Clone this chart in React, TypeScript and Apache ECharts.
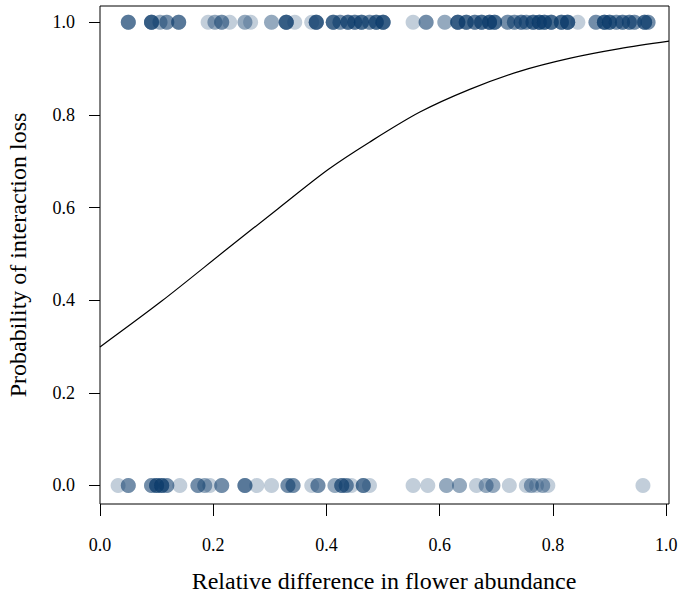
import React, { useEffect, useRef } from "react";
import * as echarts from "echarts";

// Observations at y = 1 (interaction lost): x position and number of overlapping points
const topX = [0.050, 0.091, 0.106, 0.118, 0.139, 0.191, 0.203, 0.215, 0.229, 0.256, 0.266, 0.303, 0.329, 0.344,
  0.374, 0.382, 0.412, 0.424, 0.438, 0.450, 0.462, 0.476, 0.488, 0.500,
  0.553, 0.576, 0.609, 0.632, 0.647, 0.662, 0.674, 0.688, 0.697, 0.720, 0.732, 0.744, 0.753, 0.765, 0.776,
  0.785, 0.797, 0.815, 0.826, 0.844, 0.876, 0.891, 0.900, 0.912, 0.923, 0.935, 0.944, 0.962, 0.968];
const topN = [4, 6, 2, 3, 4, 1, 2, 3, 1, 2, 1, 2, 6, 1,
  1, 6, 5, 3, 5, 4, 5, 3, 5, 6,
  1, 3, 2, 6, 5, 4, 5, 6, 5, 3, 3, 4, 3, 5, 6,
  5, 5, 5, 6, 1, 3, 6, 5, 3, 4, 4, 3, 5, 3];

// Observations at y = 0 (interaction retained)
const bottomX = [0.032, 0.050, 0.091, 0.100, 0.109, 0.118, 0.141, 0.173, 0.185, 0.194, 0.215, 0.256, 0.277,
  0.303, 0.332, 0.341, 0.374, 0.385, 0.415, 0.427, 0.435, 0.444, 0.465, 0.476,
  0.553, 0.579, 0.612, 0.635, 0.665, 0.682, 0.694, 0.723, 0.753, 0.762, 0.771, 0.782, 0.791, 0.959];
const bottomN = [1, 3, 3, 5, 5, 3, 1, 3, 2, 1, 3, 4, 1,
  1, 3, 3, 1, 3, 2, 4, 3, 1, 4, 1,
  1, 1, 2, 2, 1, 2, 2, 1, 1, 2, 1, 2, 1, 1];

// Fitted probability curve
const curveX = [0, 0.109, 0.226, 0.315, 0.403, 0.476, 0.565, 0.653, 0.741, 0.829, 0.918, 1.005];
const curveY = [0.299, 0.398, 0.512, 0.598, 0.682, 0.741, 0.806, 0.855, 0.894, 0.922, 0.943, 0.959];

const tickValues = [0, 0.2, 0.4, 0.6, 0.8, 1.0];

const FONT = '"Liberation Serif", "Times New Roman", serif';

function expand(xs: number[], ns: number[], y: number): number[][] {
  const out: number[][] = [];
  xs.forEach((x, i) => {
    for (let k = 0; k < ns[i]; k++) out.push([x, y]);
  });
  return out;
}

export default function App() {
  const ref = useRef<HTMLDivElement>(null);
  useEffect(() => {
    if (!ref.current) return;
    const chart = echarts.init(ref.current, undefined, { renderer: "svg" });
    const pointStyle = { color: "#0c3a6c", opacity: 0.25 };
    chart.setOption({
      animation: false,
      backgroundColor: "#ffffff",
      grid: {
        left: 100,
        right: 13,
        top: 6,
        bottom: 98,
        show: true,
        borderColor: "#000",
        borderWidth: 1,
      },
      xAxis: {
        type: "value",
        min: 0,
        max: 1.005,
        axisLine: { show: false, onZero: false },
        splitLine: { show: false },
        axisTick: {
          show: true,
          inside: false,
          customValues: tickValues,
          length: 12,
          lineStyle: { color: "#000", width: 1 },
        },
        axisLabel: {
          customValues: tickValues,
          formatter: (v: number) => v.toFixed(1),
          margin: 32,
          fontFamily: FONT,
          fontSize: 18,
          color: "#000",
        },
      },
      yAxis: {
        type: "value",
        min: -0.04,
        max: 1.035,
        axisLine: { show: false, onZero: false },
        splitLine: { show: false },
        axisTick: {
          show: true,
          inside: false,
          customValues: tickValues,
          length: 11,
          lineStyle: { color: "#000", width: 1 },
        },
        axisLabel: {
          customValues: tickValues,
          formatter: (v: number) => v.toFixed(1),
          margin: 25,
          fontFamily: FONT,
          fontSize: 18,
          color: "#000",
        },
      },
      graphic: [
        {
          type: "text",
          x: 384,
          y: 581,
          style: {
            text: "Relative difference in flower abundance",
            fontFamily: FONT,
            fontSize: 24,
            fill: "#000",
            textAlign: "center",
            textVerticalAlign: "middle",
          },
        },
        {
          type: "text",
          x: 18,
          y: 255,
          rotation: Math.PI / 2,
          style: {
            text: "Probability of interaction loss",
            fontFamily: FONT,
            fontSize: 24,
            fill: "#000",
            textAlign: "center",
            textVerticalAlign: "middle",
          },
        },
      ],
      series: [
        {
          type: "scatter",
          data: expand(bottomX, bottomN, 0),
          symbolSize: 15,
          itemStyle: pointStyle,
          z: 2,
        },
        {
          type: "scatter",
          data: expand(topX, topN, 1),
          symbolSize: 15,
          itemStyle: pointStyle,
          z: 2,
        },
        {
          type: "line",
          data: curveX.map((x, i) => [x, curveY[i]]),
          smooth: 0.3,
          symbol: "none",
          lineStyle: { color: "#000", width: 1.2 },
          z: 3,
        },
      ],
    });
    return () => chart.dispose();
  }, []);
  return (
    <div
      ref={ref}
      style={{ position: "absolute", left: 0, top: 0, width: 682, height: 602 }}
    />
  );
}
